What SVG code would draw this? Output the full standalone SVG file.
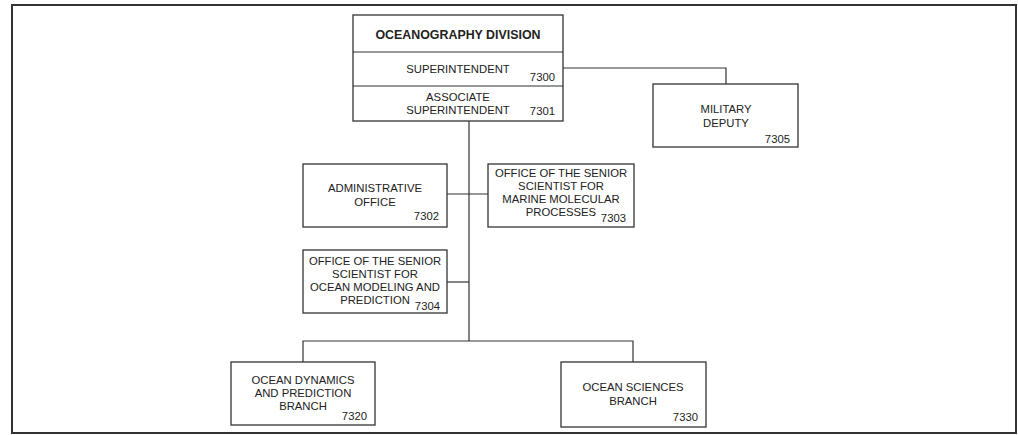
<svg xmlns="http://www.w3.org/2000/svg" width="1018" height="435" viewBox="0 0 1018 435">
<style>
.b{fill:#fff;stroke:#333;stroke-width:1.3}
.c{fill:none;stroke:#333;stroke-width:1.2}
text{font-family:"Liberation Sans",Arial,sans-serif;font-size:11.3px;fill:#222}
.m{text-anchor:middle}
.e{text-anchor:end}
.t{font-weight:bold;font-size:12.4px}
</style>
<rect x="12" y="5" width="1004" height="428" fill="#fff" stroke="#333" stroke-width="2"/>
<g id="connectors">
<path class="c" d="M563 68H726V84"/>
<path class="c" d="M469 121V341"/>
<path class="c" d="M447 194H488"/>
<path class="c" d="M447 282H469"/>
<path class="c" d="M303 362V341H633V362"/>
</g>
<g id="division">
<rect class="b" x="353" y="15" width="210" height="106"/>
<line class="c" x1="353" y1="52" x2="563" y2="52"/>
<line class="c" x1="353" y1="86" x2="563" y2="86"/>
<text class="m t" x="458" y="39">OCEANOGRAPHY DIVISION</text>
<text class="m" x="458" y="73">SUPERINTENDENT</text>
<text class="e" x="555" y="81">7300</text>
<text class="m" x="458" y="101">ASSOCIATE</text>
<text class="m" x="458" y="114">SUPERINTENDENT</text>
<text class="e" x="555" y="115">7301</text>
</g>
<g id="military">
<rect class="b" x="653" y="84" width="145" height="63"/>
<text class="m" x="726" y="113">MILITARY</text>
<text class="m" x="726" y="127">DEPUTY</text>
<text class="e" x="790" y="143">7305</text>
</g>
<g id="admin">
<rect class="b" x="303" y="164" width="144" height="63"/>
<text class="m" x="375" y="192">ADMINISTRATIVE</text>
<text class="m" x="375" y="206">OFFICE</text>
<text class="e" x="439" y="220">7302</text>
</g>
<g id="oss-mmp">
<rect class="b" x="488" y="164" width="146" height="63"/>
<text class="m" x="561" y="177">OFFICE OF THE SENIOR</text>
<text class="m" x="561" y="190">SCIENTIST FOR</text>
<text class="m" x="561" y="203">MARINE MOLECULAR</text>
<text class="m" x="561" y="216">PROCESSES</text>
<text class="e" x="626" y="222">7303</text>
</g>
<g id="oss-omp">
<rect class="b" x="303" y="250" width="144" height="63"/>
<text class="m" x="375" y="265">OFFICE OF THE SENIOR</text>
<text class="m" x="375" y="278">SCIENTIST FOR</text>
<text class="m" x="375" y="291">OCEAN MODELING AND</text>
<text class="m" x="375" y="304">PREDICTION</text>
<text class="e" x="440" y="310">7304</text>
</g>
<g id="odp">
<rect class="b" x="231" y="362" width="144" height="63"/>
<text class="m" x="303" y="384">OCEAN DYNAMICS</text>
<text class="m" x="303" y="397">AND PREDICTION</text>
<text class="m" x="303" y="410">BRANCH</text>
<text class="e" x="367" y="420">7320</text>
</g>
<g id="osb">
<rect class="b" x="561" y="362" width="145" height="65"/>
<text class="m" x="633" y="391">OCEAN SCIENCES</text>
<text class="m" x="633" y="405">BRANCH</text>
<text class="e" x="698" y="421">7330</text>
</g>
</svg>
